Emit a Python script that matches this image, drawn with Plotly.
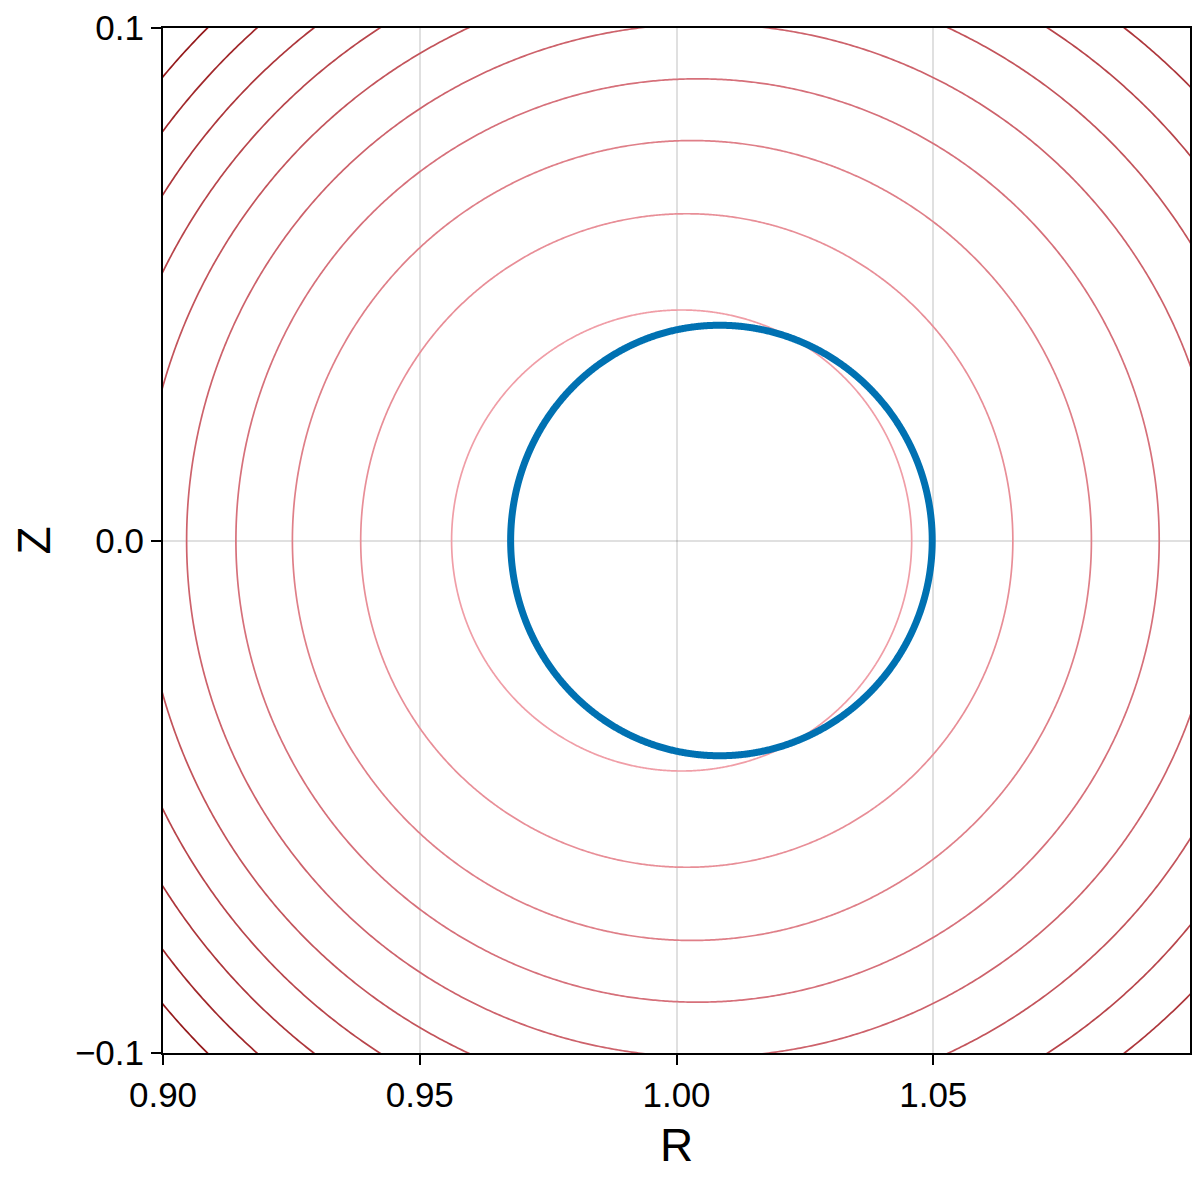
import numpy as np
import plotly.graph_objects as go

# ---- data ----
# flux-surface contours: inboard / outboard midplane crossing and elongation
contour_index = [1, 2, 3, 4, 5, 6, 7, 8, 9, 10]
R_inner = [0.9562, 0.9385, 0.9252, 0.9142, 0.9046, 0.8958, 0.8878, 0.8805, 0.8736, 0.8672]
R_outer = [1.0458, 1.0655, 1.0808, 1.0940, 1.1060, 1.1166, 1.1267, 1.1361, 1.1452, 1.1538]
kappa = [1.004, 1.004, 1.003, 1.002, 1.001, 1.000, 0.998, 0.995, 0.993, 0.992]
contour_colors = ["#f09ea7", "#e88e97", "#df7f88", "#d6707a", "#cd626b",
                  "#c3545b", "#b8454b", "#ad363b", "#a1282b", "#94191b"]

# boundary (blue) curve: inboard R, outboard R, top Z, R at top
boundary_R_in = 0.9677
boundary_R_out = 1.0498
boundary_Z_top = 0.0420
boundary_R_top = 1.0084

x_ticks = [0.90, 0.95, 1.00, 1.05]
y_ticks = [-0.1, 0.0, 0.1]

fig = go.Figure()

theta = np.linspace(0, 2 * np.pi, 1441)
for k, ri, ro, kap, col in zip(contour_index, R_inner, R_outer, kappa, contour_colors):
    r0 = 0.5 * (ri + ro)
    a = 0.5 * (ro - ri)
    fig.add_trace(go.Scatter(
        x=r0 + a * np.cos(theta), y=kap * a * np.sin(theta),
        mode="lines", line=dict(color=col, width=1.7, simplify=False),
        hoverinfo="skip", showlegend=False))

# boundary drawn as a shaped (Miller-type) curve from its read parameters
b_r0 = 0.5 * (boundary_R_in + boundary_R_out)
b_a = 0.5 * (boundary_R_out - boundary_R_in)
b_kappa = boundary_Z_top / b_a
b_delta = np.arcsin((b_r0 - boundary_R_top) / b_a)
fig.add_trace(go.Scatter(
    x=b_r0 + b_a * np.cos(theta + b_delta * np.sin(theta)),
    y=b_kappa * b_a * np.sin(theta),
    mode="lines", line=dict(color="#0071b2", width=7, simplify=False),
    showlegend=False))

font_family = "Liberation Sans, Arial, Helvetica, sans-serif"
axis_common = dict(
    showline=True, linecolor="black", linewidth=2, mirror=True,
    ticks="outside", ticklen=10, tickwidth=2, tickcolor="black",
    showgrid=True, gridcolor="rgba(0,0,0,0.12)", gridwidth=1.5,
    zeroline=False,
    tickfont=dict(family=font_family, size=35, color="black"),
)

fig.update_xaxes(
    range=[0.9, 1.1], tickvals=x_ticks, tickformat=".2f",
    title=dict(text="R", font=dict(family=font_family, size=46, color="black"), standoff=16),
    **axis_common)
fig.update_yaxes(
    range=[-0.1, 0.1], tickvals=y_ticks, tickformat=".1f",
    title=dict(text="Z", font=dict(family=font_family, size=46, color="black"), standoff=10),
    **axis_common)

fig.update_layout(
    width=1192, height=1192,
    margin=dict(l=155, r=10, t=20, b=147, autoexpand=False),
    plot_bgcolor="white", paper_bgcolor="white",
    showlegend=False,
)

fig.write_html("out.html")
